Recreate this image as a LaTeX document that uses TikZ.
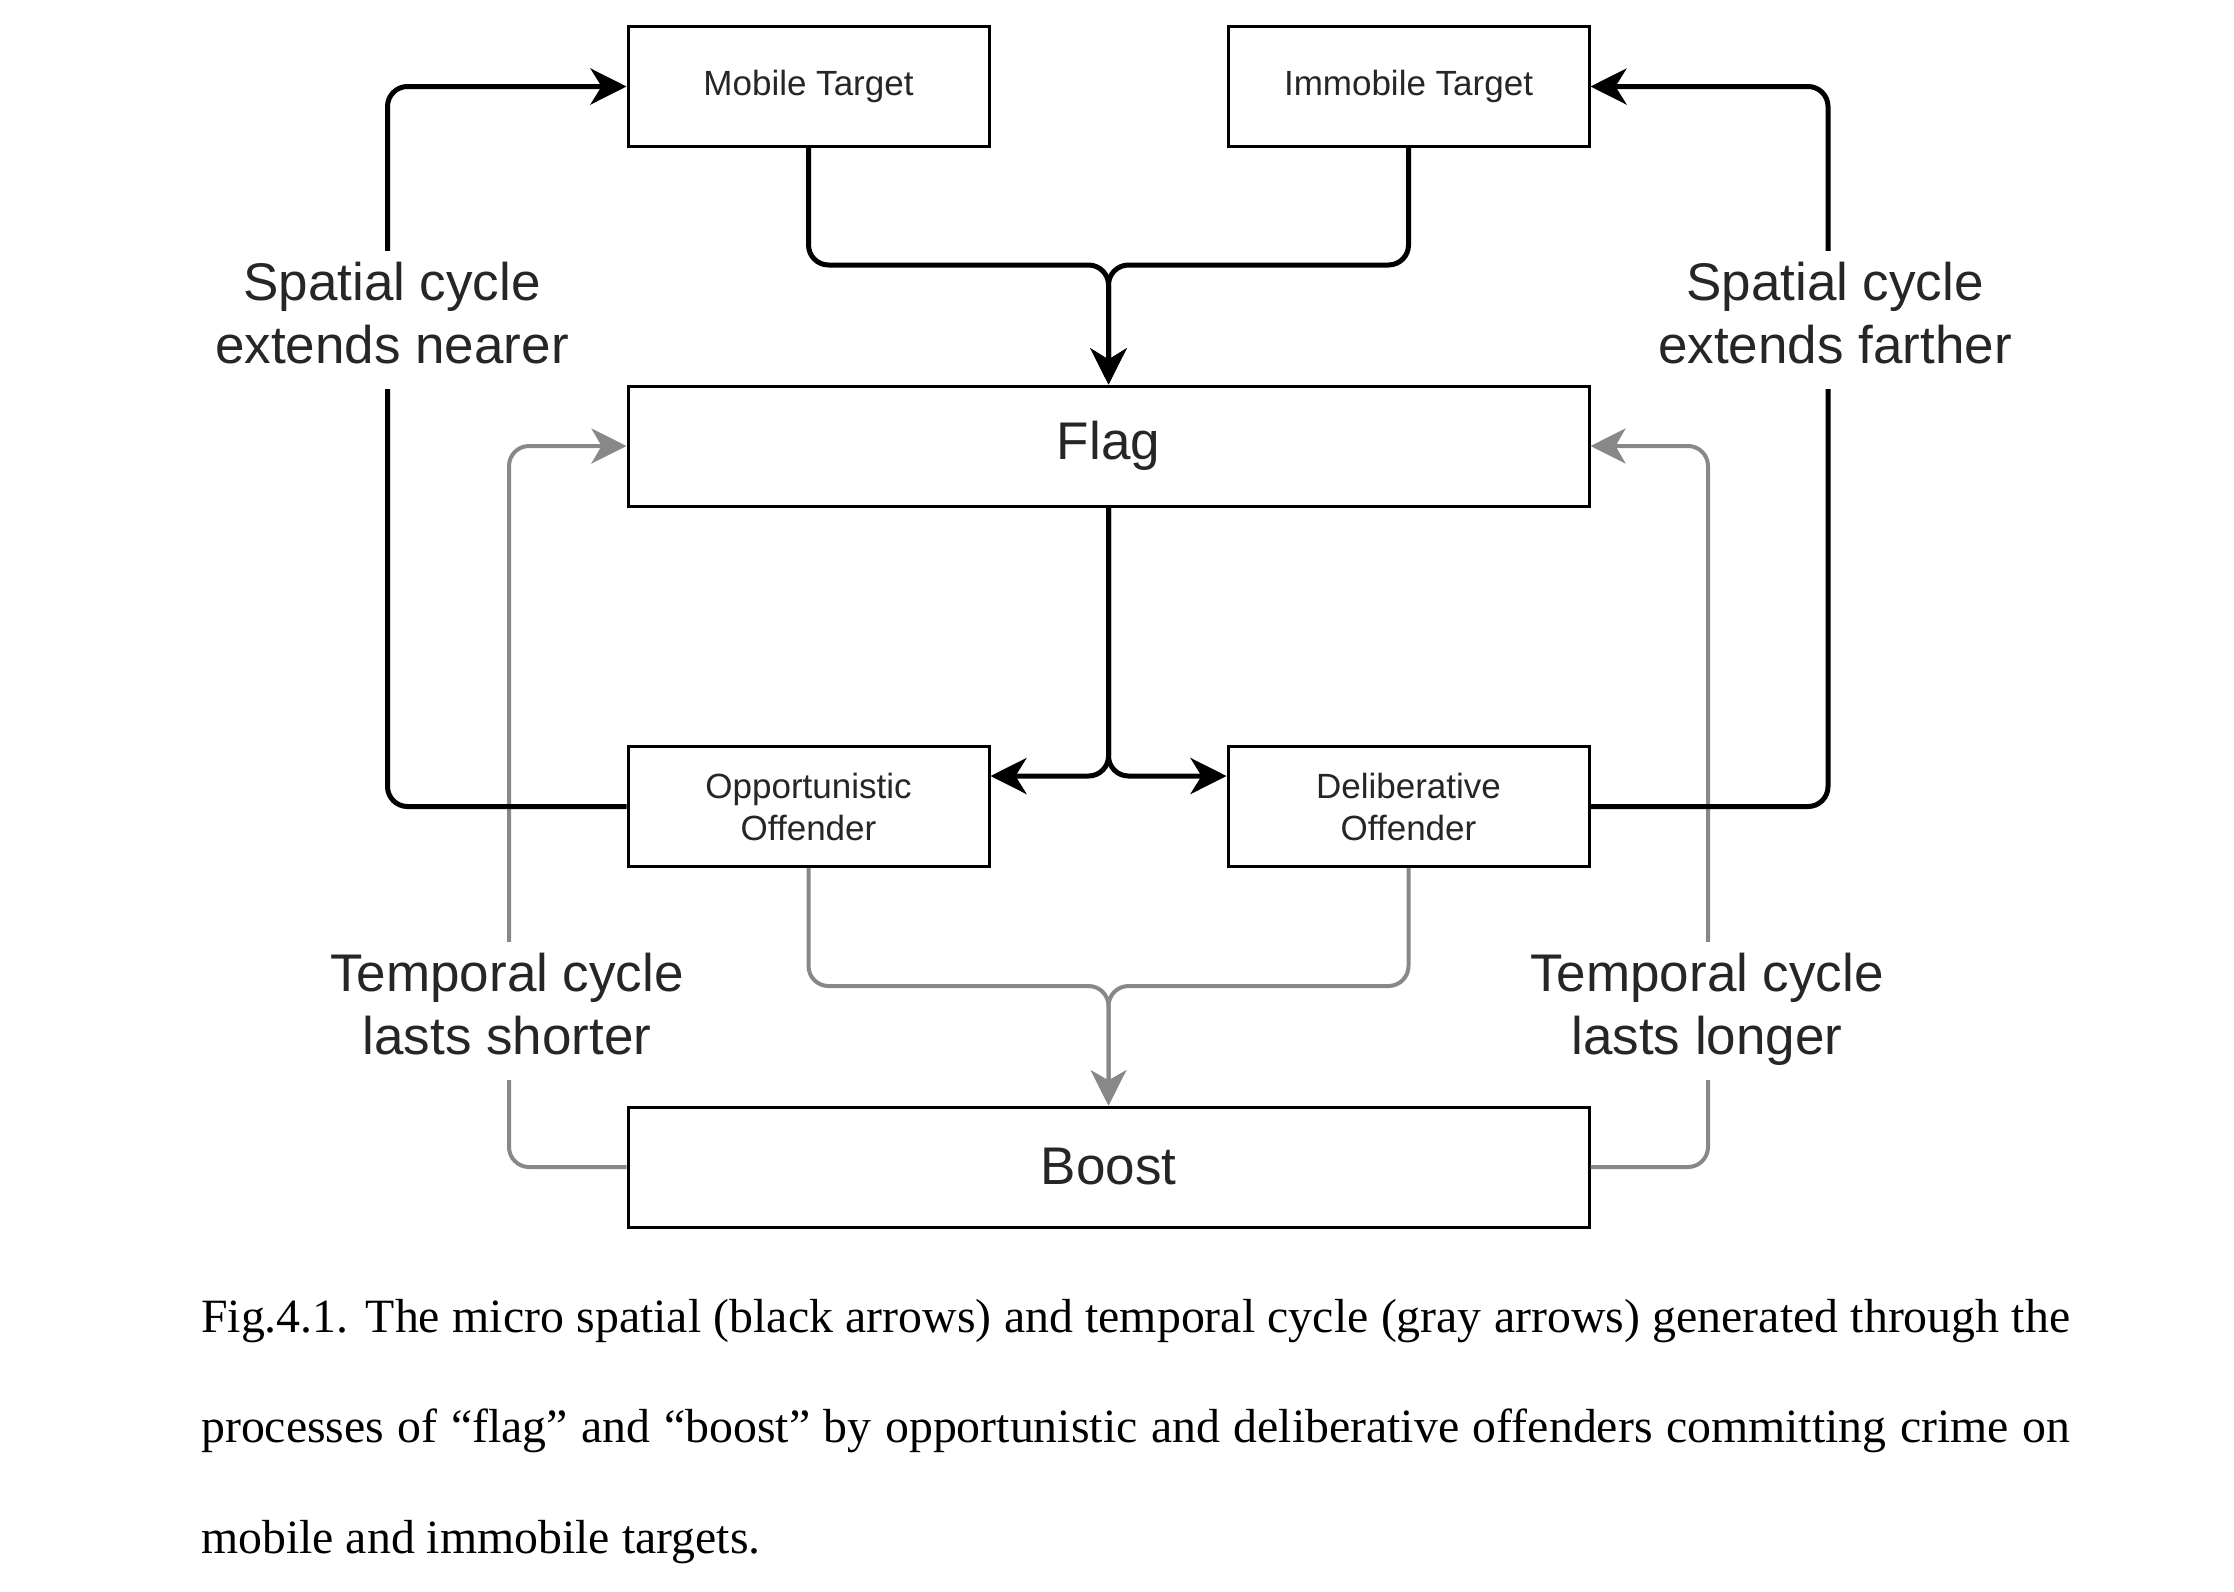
\documentclass[tikz,border=0pt]{standalone}
\usepackage{fontspec}
\setmainfont{Liberation Sans}
\newfontfamily\capfont{Liberation Serif}
\usetikzlibrary{arrows.meta,calc}
\definecolor{lgray}{RGB}{136,136,136}
\begin{document}
\begin{tikzpicture}[x=1pt,y=-1pt,
 box/.style={draw=black,line width=3pt,fill=white,inner sep=0pt,align=center,text=black!85},
 smallbox/.style={box,minimum width=361pt,minimum height=120pt,font=\fontsize{35}{42}\selectfont},
 widebox/.style={box,minimum width=961pt,minimum height=120pt,font=\fontsize{53}{63}\selectfont},
 blk/.style={draw=black,line width=5pt,rounded corners=20pt,-{Stealth[length=36pt,width=36pt,inset=11pt]}},
 gry/.style={draw=lgray,line width=4pt,rounded corners=20pt,-{Stealth[length=35pt,width=35pt,inset=10pt]}},
 lab/.style={fill=white,inner xsep=4pt,inner ysep=6pt,align=center,font=\fontsize{53}{63}\selectfont,text=black!85}]
\useasboundingbox[fill=white] (0,0) rectangle (2234,1591);

\node[smallbox] (mob) at (808.5,86.5) {Mobile Target};
\node[smallbox] (imm) at (1408.5,86.5) {Immobile Target};
\node[widebox] (flag) at (1108.5,446) {Flag};
\node[smallbox] (opp) at (808.5,806.5) {Opportunistic\\Offender};
\node[smallbox] (del) at (1408.5,806.5) {Deliberative\\Offender};
\node[widebox] (boost) at (1108.5,1167) {Boost};

\coordinate (mtop) at (1108.5,265);
\coordinate (mbot) at (1108.5,986);
\coordinate (split) at (1108.5,776);
\coordinate (lb) at (387.5,0);
\coordinate (rb) at (1828,0);
\coordinate (lg) at (509,0);
\coordinate (rg) at (1708,0);

% gray: temporal cycle
\draw[gry] (opp.south) |- (mbot) -- (boost.north);
\draw[gry] (del.south) |- (mbot) -- (boost.north);
\draw[gry] (boost.west) -| (lg |- flag.west) -- (flag.west);
\draw[gry] (boost.east) -| (rg |- flag.east) -- (flag.east);

% black: spatial cycle
\draw[blk] (mob.south) |- (mtop) -- (flag.north);
\draw[blk] (imm.south) |- (mtop) -- (flag.north);
\draw[blk] (flag.south) -- (split) -- (opp.east |- split);
\draw[blk] (flag.south) -- (split) -- (del.west |- split);
\draw[blk] (opp.west) -| (lb |- mob.west) -- (mob.west);
\draw[blk] (del.east) -| (rb |- imm.east) -- (imm.east);

\node[lab] (ln) at (392,319.7) {Spatial cycle\strut\\extends nearer\strut};
\node[lab] (rf) at (1835,319.7) {Spatial cycle\strut\\extends farther\strut};
\node[lab] (ls) at (507,1010.7) {Temporal cycle\strut\\lasts shorter\strut};
\node[lab] (rl) at (1707,1010.7) {Temporal cycle\strut\\lasts longer\strut};

\node[anchor=north west,text width=1869pt,align=justify,inner sep=0pt,
  font=\capfont\fontsize{47.8}{110.5}\selectfont] (cap) at (201,1299)
 {\hyphenpenalty=10000 Fig.4.1. The micro spatial (black arrows) and temporal cycle (gray arrows) generated through the\linebreak processes of “flag” and “boost” by opportunistic and deliberative offenders committing crime on\linebreak mobile and immobile targets.};
\end{tikzpicture}
\end{document}
